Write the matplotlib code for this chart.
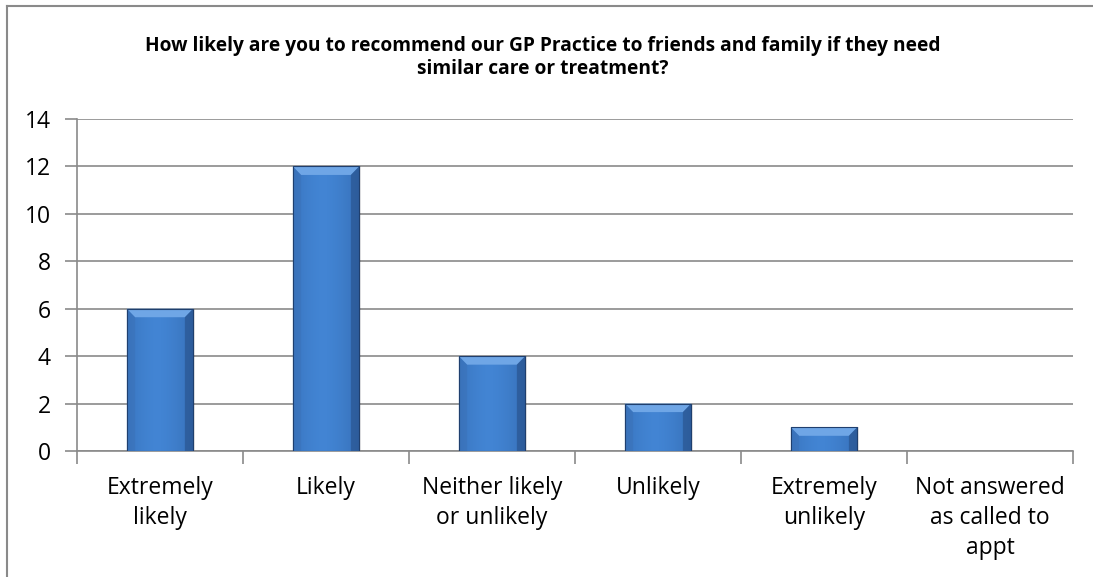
import numpy as np
import matplotlib.pyplot as plt
from matplotlib.patches import Rectangle, Polygon
from matplotlib.lines import Line2D

categories = ['Extremely\nlikely', 'Likely', 'Neither likely\nor unlikely', 'Unlikely',
              'Extremely\nunlikely', 'Not answered\nas called to\nappt']
counts = [6, 12, 4, 2, 1, 0]
title = ('How likely are you to recommend our GP Practice to friends and family if they need\n'
         'similar care or treatment?')

plt.rcParams['font.family'] = ['Open Sans', 'DejaVu Sans']

fig = plt.figure(figsize=(10.93, 5.77), dpi=100)
ax = fig.add_axes([0.0704, 0.2184, 0.9113, 0.5754])

# chart border: only top and left are inside the crop
fig.add_artist(Line2D([0.0064, 0.0064], [0, 0.9896], transform=fig.transFigure,
                      color='#8a8a8a', lw=1.5))
fig.add_artist(Line2D([0.0064, 1.0], [0.9896, 0.9896], transform=fig.transFigure,
                      color='#8a8a8a', lw=1.5))

x = np.arange(len(categories))
width = 0.4
bevel_y = 0.36
bevel_x = 0.05

# horizontal gradient for the bar faces
grad = np.linspace(0, 1, 256)
prof = np.clip(1 - 1.2 * np.abs(grad - 0.45) ** 1.6, 0, 1)
dark = np.array([0.16, 0.34, 0.59])
light = np.array([0.26, 0.52, 0.83])
img = (dark[None, :] + (light - dark)[None, :] * prof[:, None])[None, :, :]

for xi, v in zip(x, counts):
    if v <= 0:
        continue
    x0, x1 = xi - width / 2, xi + width / 2
    # soft shadow
    ax.add_patch(Rectangle((x0 + 0.01, 0), width, v, facecolor='#000000', alpha=0.10,
                           edgecolor='none', zorder=2))
    rect = Rectangle((x0, 0), width, v, facecolor='none', edgecolor='none', zorder=4)
    ax.add_patch(rect)
    im = ax.imshow(img, extent=[x0, x1, 0, v], aspect='auto', zorder=3, interpolation='bicubic')
    im.set_clip_path(rect)
    # top bevel
    by = min(bevel_y, v * 0.45)
    ax.add_patch(Polygon([[x0, v], [x1, v], [x1 - bevel_x, v - by], [x0 + bevel_x, v - by]],
                         closed=True, facecolor='#6fa6e6', edgecolor='none', zorder=4))
    ax.add_patch(Polygon([[x0, v], [x0 + bevel_x, v - by], [x0 + bevel_x, 0], [x0, 0]],
                         closed=True, facecolor='#3a70b5', alpha=0.45, edgecolor='none', zorder=4))
    ax.add_patch(Polygon([[x1, v], [x1 - bevel_x, v - by], [x1 - bevel_x, 0], [x1, 0]],
                         closed=True, facecolor='#24497f', alpha=0.5, edgecolor='none', zorder=4))
    ax.add_patch(Rectangle((x0, 0), width, v, facecolor='none', edgecolor='#1f3f6e', lw=0.8, zorder=5))

ax.set_xlim(-0.5, len(categories) - 0.5)
ax.set_ylim(0, 14)
ax.set_yticks(np.arange(0, 15, 2))
ax.set_xticks(x)
ax.set_xticklabels(categories, fontsize=16.5, linespacing=1.32)
ax.set_xticks(np.arange(-0.5, len(categories)), minor=True)
ax.tick_params(axis='x', which='major', length=0, pad=18)
ax.tick_params(axis='x', which='minor', length=9, color='#8a8a8a', width=1.2)
ax.tick_params(axis='y', length=9, color='#8a8a8a', width=1.2, labelsize=16.5, pad=10)

ax.yaxis.grid(True, color='#8a8a8a', lw=1.2)
ax.set_axisbelow(True)
for s in ['top', 'right']:
    ax.spines[s].set_visible(False)
for s in ['left', 'bottom']:
    ax.spines[s].set_color('#8a8a8a')
    ax.spines[s].set_linewidth(1.2)

fig.text(0.497, 0.9, title, ha='center', va='center', fontsize=13.8, fontweight='bold',
         linespacing=1.2)

fig.savefig('out.png', dpi=100)
